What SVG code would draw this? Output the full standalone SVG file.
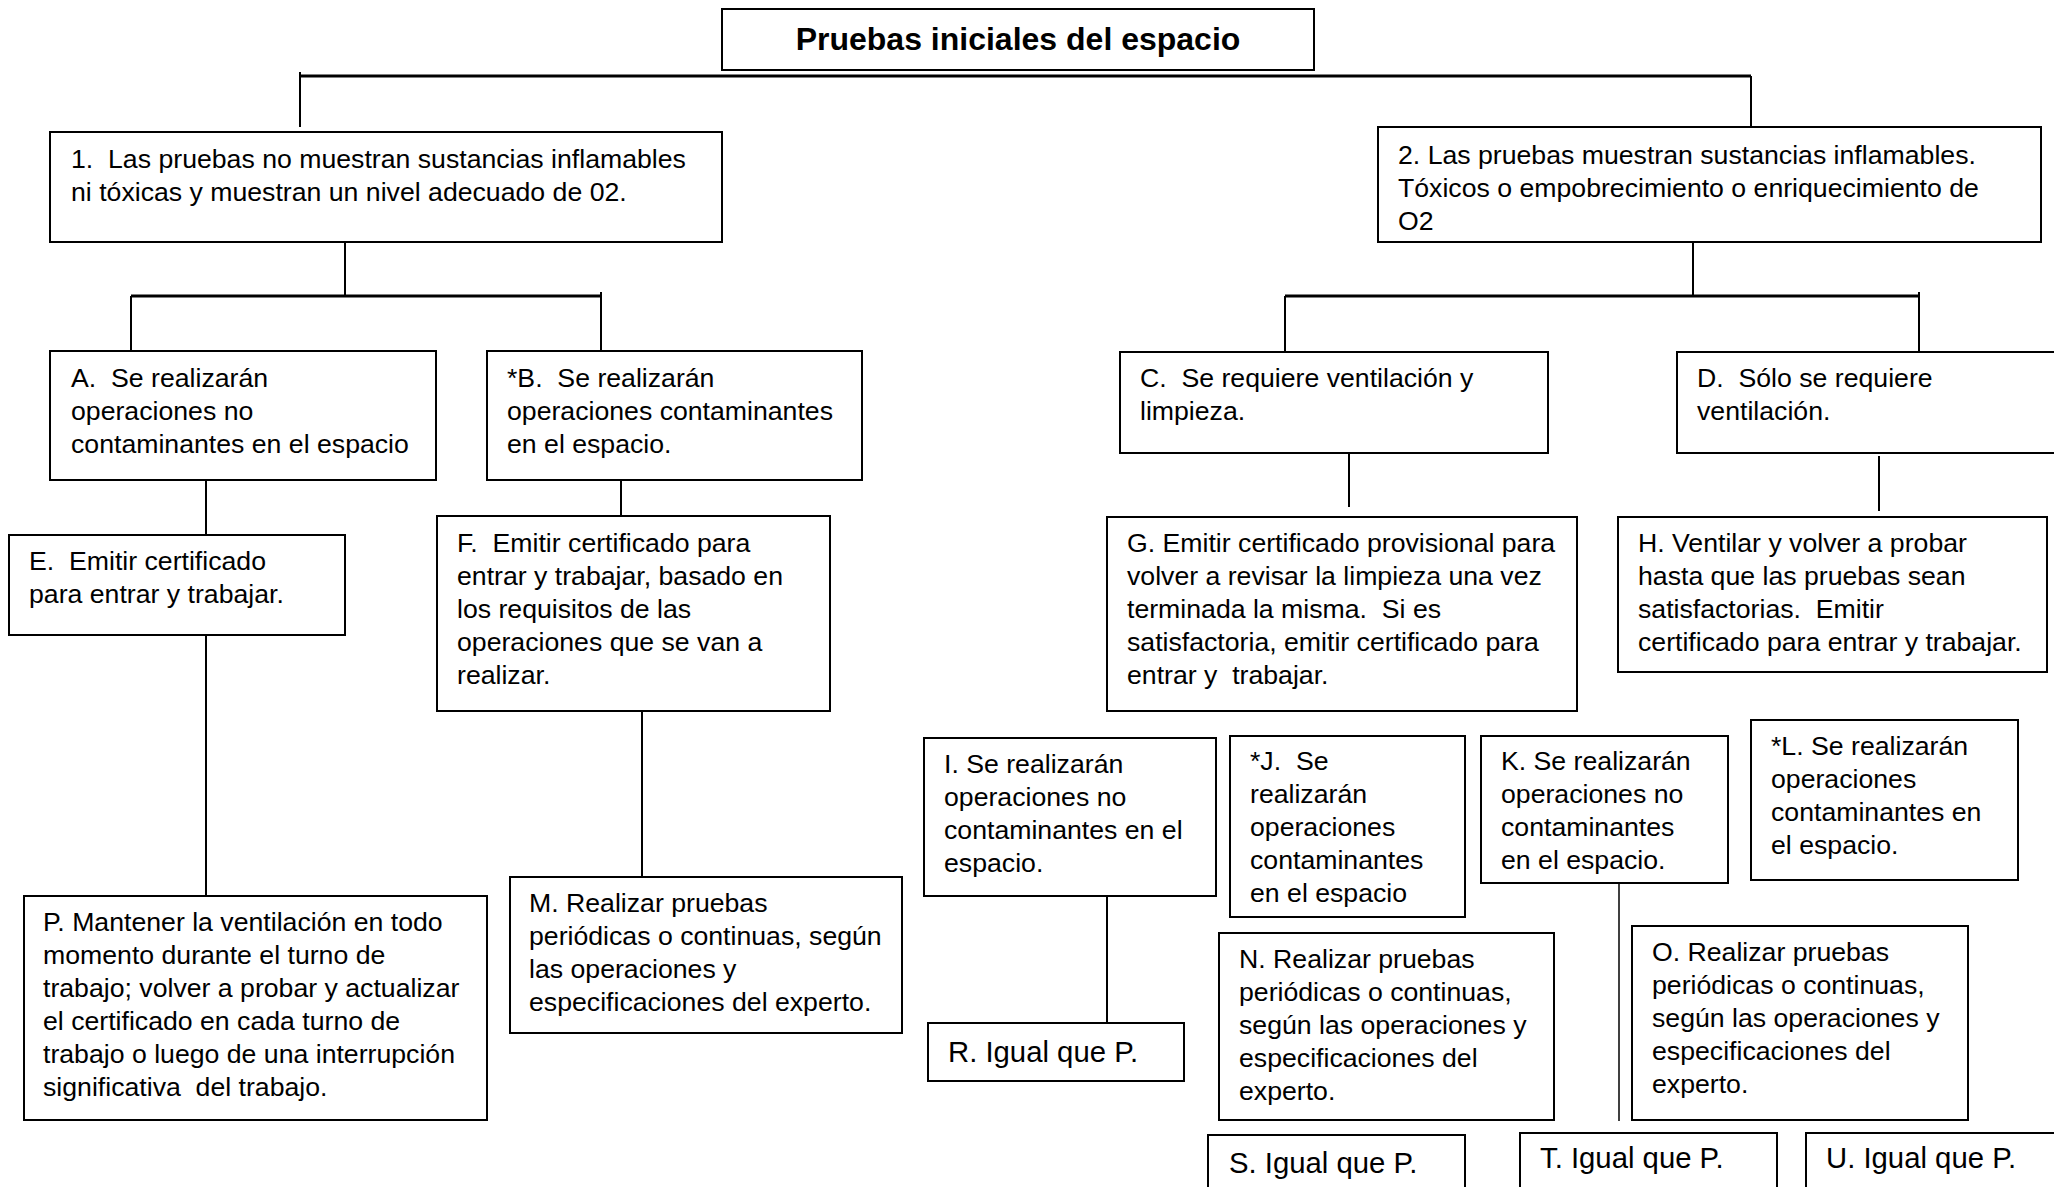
<svg xmlns="http://www.w3.org/2000/svg" width="2054" height="1187" viewBox="0 0 2054 1187">
<style>
  .box { fill: #ffffff; stroke: #000000; stroke-width: 2; }
  .t { font-family: "Liberation Sans", Arial, sans-serif; font-size: 26.67px; fill: #000000; white-space: pre; }
  .big { font-size: 29.3px; }
  .title { font-family: "Liberation Sans", Arial, sans-serif; font-size: 32px; font-weight: bold; fill: #000000; }
  .c { stroke: #000000; stroke-width: 2; fill: none; }
  .h { stroke: #000000; stroke-width: 3; fill: none; }
</style>
<rect x="0" y="0" width="2054" height="1187" fill="#ffffff"/>
<g id="connectors">
  <line class="h" x1="300" y1="76" x2="1751" y2="76"/>
  <line class="c" x1="300" y1="72" x2="300" y2="127"/>
  <line class="c" x1="1751" y1="76" x2="1751" y2="127"/>
  <line class="c" x1="345" y1="242" x2="345" y2="296"/>
  <line class="h" x1="131" y1="296" x2="601" y2="296"/>
  <line class="c" x1="131" y1="296" x2="131" y2="350"/>
  <line class="c" x1="601" y1="292" x2="601" y2="350"/>
  <line class="c" x1="1693" y1="242" x2="1693" y2="296"/>
  <line class="h" x1="1285" y1="296" x2="1919" y2="296"/>
  <line class="c" x1="1285" y1="296" x2="1285" y2="351"/>
  <line class="c" x1="1919" y1="292" x2="1919" y2="351"/>
  <line class="c" x1="206" y1="480" x2="206" y2="534"/>
  <line class="c" x1="206" y1="635" x2="206" y2="896"/>
  <line class="c" x1="621" y1="480" x2="621" y2="516"/>
  <line class="c" x1="642" y1="711" x2="642" y2="877"/>
  <line class="c" x1="1349" y1="453" x2="1349" y2="507"/>
  <line class="c" x1="1879" y1="456" x2="1879" y2="511"/>
  <line class="c" x1="1107" y1="896" x2="1107" y2="1023"/>
  <line class="c" x1="1619" y1="878" x2="1619" y2="1121" style="stroke-width:1.5"/>
</g>
<g id="title">
  <rect class="box" x="722" y="9" width="592" height="61"/>
  <text class="title" x="1018" y="50" text-anchor="middle">Pruebas iniciales del espacio</text>
</g>
<g id="n1">
  <rect class="box" x="50" y="132" width="672" height="110"/>
  <text class="t"><tspan x="71" y="168">1.  Las pruebas no muestran sustancias inflamables</tspan><tspan x="71" y="201">ni tóxicas y muestran un nivel adecuado de 02.</tspan></text>
</g>
<g id="n2">
  <rect class="box" x="1378" y="127" width="663" height="115"/>
  <text class="t"><tspan x="1398" y="164">2. Las pruebas muestran sustancias inflamables.</tspan><tspan x="1398" y="197">Tóxicos o empobrecimiento o enriquecimiento de</tspan><tspan x="1398" y="230">O2</tspan></text>
</g>
<g id="nA">
  <rect class="box" x="50" y="351" width="386" height="129"/>
  <text class="t"><tspan x="71" y="387">A.  Se realizarán</tspan><tspan x="71" y="420">operaciones no</tspan><tspan x="71" y="453">contaminantes en el espacio</tspan></text>
</g>
<g id="nB">
  <rect class="box" x="487" y="351" width="375" height="129"/>
  <text class="t"><tspan x="507" y="387">*B.  Se realizarán</tspan><tspan x="507" y="420">operaciones contaminantes</tspan><tspan x="507" y="453">en el espacio.</tspan></text>
</g>
<g id="nC">
  <rect class="box" x="1120" y="352" width="428" height="101"/>
  <text class="t"><tspan x="1140" y="387">C.  Se requiere ventilación y</tspan><tspan x="1140" y="420">limpieza.</tspan></text>
</g>
<g id="nD">
  <rect class="box" x="1677" y="352" width="390" height="101"/>
  <text class="t"><tspan x="1697" y="387">D.  Sólo se requiere</tspan><tspan x="1697" y="420">ventilación.</tspan></text>
</g>
<g id="nE">
  <rect class="box" x="9" y="535" width="336" height="100"/>
  <text class="t"><tspan x="29" y="570">E.  Emitir certificado</tspan><tspan x="29" y="603">para entrar y trabajar.</tspan></text>
</g>
<g id="nF">
  <rect class="box" x="437" y="516" width="393" height="195"/>
  <text class="t"><tspan x="457" y="552">F.  Emitir certificado para</tspan><tspan x="457" y="585">entrar y trabajar, basado en</tspan><tspan x="457" y="618">los requisitos de las</tspan><tspan x="457" y="651">operaciones que se van a</tspan><tspan x="457" y="684">realizar.</tspan></text>
</g>
<g id="nG">
  <rect class="box" x="1107" y="517" width="470" height="194"/>
  <text class="t"><tspan x="1127" y="552">G. Emitir certificado provisional para</tspan><tspan x="1127" y="585">volver a revisar la limpieza una vez</tspan><tspan x="1127" y="618">terminada la misma.  Si es</tspan><tspan x="1127" y="651">satisfactoria, emitir certificado para</tspan><tspan x="1127" y="684">entrar y  trabajar.</tspan></text>
</g>
<g id="nH">
  <rect class="box" x="1618" y="517" width="429" height="155"/>
  <text class="t"><tspan x="1638" y="552">H. Ventilar y volver a probar</tspan><tspan x="1638" y="585">hasta que las pruebas sean</tspan><tspan x="1638" y="618">satisfactorias.  Emitir</tspan><tspan x="1638" y="651">certificado para entrar y trabajar.</tspan></text>
</g>
<g id="nI">
  <rect class="box" x="924" y="738" width="292" height="158"/>
  <text class="t"><tspan x="944" y="773">I. Se realizarán</tspan><tspan x="944" y="806">operaciones no</tspan><tspan x="944" y="839">contaminantes en el</tspan><tspan x="944" y="872">espacio.</tspan></text>
</g>
<g id="nJ">
  <rect class="box" x="1230" y="736" width="235" height="181"/>
  <text class="t"><tspan x="1250" y="770">*J.  Se</tspan><tspan x="1250" y="803">realizarán</tspan><tspan x="1250" y="836">operaciones</tspan><tspan x="1250" y="869">contaminantes</tspan><tspan x="1250" y="902">en el espacio</tspan></text>
</g>
<g id="nK">
  <rect class="box" x="1481" y="736" width="247" height="147"/>
  <text class="t"><tspan x="1501" y="770">K. Se realizarán</tspan><tspan x="1501" y="803">operaciones no</tspan><tspan x="1501" y="836">contaminantes</tspan><tspan x="1501" y="869">en el espacio.</tspan></text>
</g>
<g id="nL">
  <rect class="box" x="1751" y="720" width="267" height="160"/>
  <text class="t"><tspan x="1771" y="755">*L. Se realizarán</tspan><tspan x="1771" y="788">operaciones</tspan><tspan x="1771" y="821">contaminantes en</tspan><tspan x="1771" y="854">el espacio.</tspan></text>
</g>
<g id="nM">
  <rect class="box" x="510" y="877" width="392" height="156"/>
  <text class="t"><tspan x="529" y="912">M. Realizar pruebas</tspan><tspan x="529" y="945">periódicas o continuas, según</tspan><tspan x="529" y="978">las operaciones y</tspan><tspan x="529" y="1011">especificaciones del experto.</tspan></text>
</g>
<g id="nN">
  <rect class="box" x="1219" y="933" width="335" height="187"/>
  <text class="t"><tspan x="1239" y="968">N. Realizar pruebas</tspan><tspan x="1239" y="1001">periódicas o continuas,</tspan><tspan x="1239" y="1034">según las operaciones y</tspan><tspan x="1239" y="1067">especificaciones del</tspan><tspan x="1239" y="1100">experto.</tspan></text>
</g>
<g id="nO">
  <rect class="box" x="1632" y="926" width="336" height="194"/>
  <text class="t"><tspan x="1652" y="961">O. Realizar pruebas</tspan><tspan x="1652" y="994">periódicas o continuas,</tspan><tspan x="1652" y="1027">según las operaciones y</tspan><tspan x="1652" y="1060">especificaciones del</tspan><tspan x="1652" y="1093">experto.</tspan></text>
</g>
<g id="nP">
  <rect class="box" x="24" y="896" width="463" height="224"/>
  <text class="t"><tspan x="43" y="931">P. Mantener la ventilación en todo</tspan><tspan x="43" y="964">momento durante el turno de</tspan><tspan x="43" y="997">trabajo; volver a probar y actualizar</tspan><tspan x="43" y="1030">el certificado en cada turno de</tspan><tspan x="43" y="1063">trabajo o luego de una interrupción</tspan><tspan x="43" y="1096">significativa  del trabajo.</tspan></text>
</g>
<g id="nR">
  <rect class="box" x="928" y="1023" width="256" height="58"/>
  <text class="t big" x="948" y="1062">R. Igual que P.</text>
</g>
<g id="nS">
  <rect class="box" x="1208" y="1135" width="257" height="70"/>
  <text class="t big" x="1229" y="1173">S. Igual que P.</text>
</g>
<g id="nT">
  <rect class="box" x="1520" y="1133" width="257" height="72"/>
  <text class="t big" x="1540" y="1168">T. Igual que P.</text>
</g>
<g id="nU">
  <rect class="box" x="1806" y="1133" width="270" height="72"/>
  <text class="t big" x="1826" y="1168">U. Igual que P.</text>
</g>
</svg>
